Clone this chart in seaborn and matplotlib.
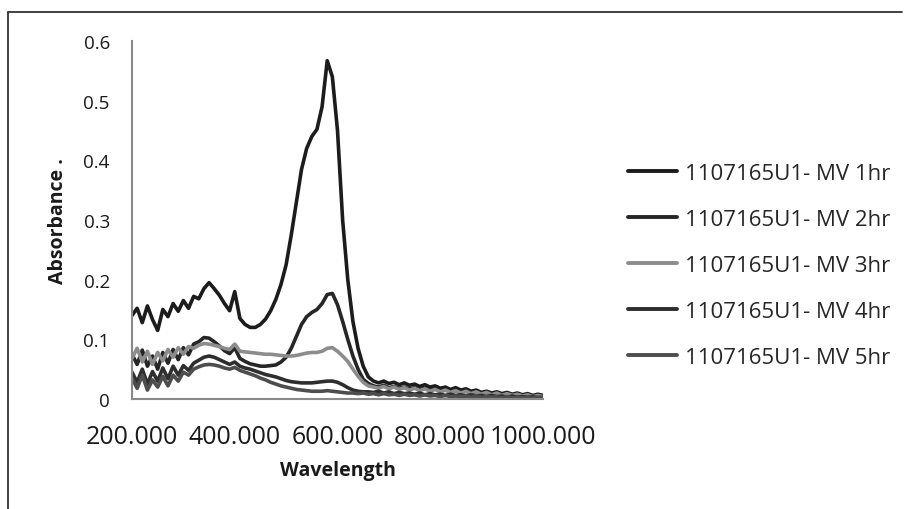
import numpy as np
import pandas as pd
import matplotlib
matplotlib.use("Agg")
import matplotlib.pyplot as plt
from matplotlib.lines import Line2D
import seaborn as sns

# Wavelength grid (nm), sampled every 10 nm
wavelength = np.arange(200, 1001, 10)

series_names = [
    "1107165U1- MV 1hr",
    "1107165U1- MV 2hr",
    "1107165U1- MV 3hr",
    "1107165U1- MV 4hr",
    "1107165U1- MV 5hr",
]

abs_1hr = [
    0.140, 0.152, 0.128, 0.156, 0.133, 0.115, 0.150, 0.138, 0.160, 0.147,
    0.165, 0.152, 0.172, 0.168, 0.185, 0.195, 0.185, 0.174, 0.160, 0.148,
    0.180, 0.135, 0.125, 0.120, 0.120, 0.125, 0.134, 0.148, 0.167, 0.192,
    0.225, 0.275, 0.330, 0.385, 0.420, 0.440, 0.452, 0.490, 0.567, 0.540,
    0.450, 0.300, 0.200, 0.130, 0.085, 0.055, 0.037, 0.030, 0.027, 0.030,
    0.026, 0.028, 0.024, 0.027, 0.023, 0.025, 0.021, 0.024, 0.020, 0.022,
    0.018, 0.020, 0.016, 0.019, 0.015, 0.017, 0.013, 0.015, 0.011, 0.013,
    0.010, 0.012, 0.009, 0.011, 0.008, 0.010, 0.007, 0.009, 0.006, 0.008,
    0.006,
]

abs_2hr = [
    0.075, 0.058, 0.082, 0.055, 0.072, 0.050, 0.078, 0.060, 0.083, 0.066,
    0.086, 0.074, 0.092, 0.096, 0.103, 0.102, 0.096, 0.089, 0.081, 0.076,
    0.086, 0.068, 0.063, 0.059, 0.057, 0.055, 0.055, 0.056, 0.057, 0.062,
    0.070, 0.085, 0.105, 0.125, 0.138, 0.145, 0.150, 0.160, 0.175, 0.177,
    0.158, 0.130, 0.100, 0.072, 0.050, 0.033, 0.026, 0.022, 0.020, 0.023,
    0.019, 0.021, 0.018, 0.020, 0.017, 0.019, 0.016, 0.018, 0.015, 0.017,
    0.013, 0.015, 0.012, 0.014, 0.011, 0.013, 0.010, 0.012, 0.009, 0.011,
    0.008, 0.010, 0.007, 0.009, 0.006, 0.008, 0.005, 0.007, 0.005, 0.006,
    0.004,
]

abs_3hr = [
    0.068, 0.085, 0.062, 0.080, 0.058, 0.078, 0.064, 0.083, 0.070, 0.086,
    0.075, 0.088, 0.085, 0.090, 0.093, 0.092, 0.090, 0.088, 0.085, 0.083,
    0.092, 0.080, 0.079, 0.078, 0.077, 0.076, 0.075, 0.075, 0.074, 0.073,
    0.072, 0.072, 0.073, 0.075, 0.077, 0.078, 0.078, 0.080, 0.085, 0.086,
    0.080, 0.072, 0.063, 0.050, 0.038, 0.028, 0.022, 0.020, 0.018, 0.021,
    0.017, 0.020, 0.016, 0.019, 0.015, 0.018, 0.014, 0.017, 0.013, 0.016,
    0.012, 0.015, 0.011, 0.014, 0.010, 0.013, 0.009, 0.012, 0.008, 0.011,
    0.007, 0.010, 0.006, 0.009, 0.006, 0.008, 0.005, 0.007, 0.004, 0.006,
    0.004,
]

abs_4hr = [
    0.045, 0.028, 0.050, 0.025, 0.046, 0.030, 0.052, 0.034, 0.055, 0.040,
    0.056, 0.048, 0.060, 0.065, 0.070, 0.072, 0.070, 0.066, 0.062, 0.058,
    0.062, 0.055, 0.052, 0.050, 0.047, 0.044, 0.041, 0.039, 0.037, 0.034,
    0.031, 0.029, 0.028, 0.027, 0.027, 0.027, 0.028, 0.029, 0.030, 0.030,
    0.028, 0.024, 0.019, 0.015, 0.013, 0.012, 0.012, 0.011, 0.013, 0.010,
    0.012, 0.009, 0.011, 0.009, 0.010, 0.008, 0.010, 0.007, 0.009, 0.007,
    0.008, 0.006, 0.008, 0.006, 0.007, 0.005, 0.007, 0.005, 0.006, 0.004,
    0.006, 0.004, 0.005, 0.003, 0.005, 0.003, 0.004, 0.003, 0.004, 0.002,
    0.003,
]

abs_5hr = [
    0.035, 0.018, 0.040, 0.015, 0.032, 0.020, 0.038, 0.022, 0.040, 0.030,
    0.045, 0.040, 0.050, 0.054, 0.057, 0.058, 0.057, 0.055, 0.052, 0.050,
    0.053, 0.048, 0.045, 0.042, 0.039, 0.035, 0.032, 0.028, 0.025, 0.022,
    0.020, 0.018, 0.016, 0.015, 0.014, 0.013, 0.013, 0.013, 0.014, 0.013,
    0.012, 0.011, 0.010, 0.010, 0.009, 0.010, 0.008, 0.009, 0.007, 0.009,
    0.007, 0.008, 0.006, 0.008, 0.006, 0.007, 0.005, 0.007, 0.005, 0.006,
    0.004, 0.006, 0.004, 0.005, 0.004, 0.005, 0.003, 0.005, 0.003, 0.004,
    0.003, 0.004, 0.002, 0.004, 0.002, 0.003, 0.002, 0.003, 0.002, 0.003,
    0.002,
]

x_ticks = [200, 400, 600, 800, 1000]
y_ticks = [0, 0.1, 0.2, 0.3, 0.4, 0.5, 0.6]

colors = ["#1c1c1c", "#262626", "#8c8c8c", "#2e2e2e", "#4d4d4d"]

all_values = [abs_1hr, abs_2hr, abs_3hr, abs_4hr, abs_5hr]
frames = []
for name, vals in zip(series_names, all_values):
    frames.append(pd.DataFrame({"Wavelength": wavelength, "Absorbance": vals, "series": name}))
df = pd.concat(frames, ignore_index=True)

sns.set_style("white")
plt.rcParams["font.family"] = ["Open Sans", "DejaVu Sans"]

fig = plt.figure(figsize=(9.07, 5.10), dpi=100)
ax = fig.add_axes([132 / 907, 110 / 510, (543 - 132) / 907, (400 - 42) / 510])

palette = dict(zip(series_names, colors))
sns.lineplot(data=df, x="Wavelength", y="Absorbance", hue="series",
             palette=palette, linewidth=2.6, ax=ax, legend=False, sort=False)

ax.set_xlim(200, 1000)
ax.set_ylim(0, 0.6)
ax.set_xticks(x_ticks)
ax.set_xticklabels([f"{v:.3f}" for v in x_ticks], fontsize=18, color="#1a1a1a")
ax.set_yticks(y_ticks)
ax.set_yticklabels(["0", "0.1", "0.2", "0.3", "0.4", "0.5", "0.6"], fontsize=13.5, color="#1a1a1a")
ax.tick_params(axis="x", length=0, pad=18)
ax.tick_params(axis="y", length=0, pad=16)

for side in ["top", "right"]:
    ax.spines[side].set_visible(False)
for side in ["left", "bottom"]:
    ax.spines[side].set_color("#8a8a8a")
    ax.spines[side].set_linewidth(1.5)

ax.set_xlabel("Wavelength", fontsize=14, fontweight="bold", color="#1a1a1a", labelpad=8)
ax.set_ylabel("Absorbance .", fontsize=14, fontweight="bold", color="#1a1a1a", labelpad=11)

# Legend on the right side of the figure
handles = [Line2D([0], [0], color=c, linewidth=2.8) for c in colors]
fig.legend(handles, series_names, loc="upper left",
           bbox_to_anchor=(628 / 907, 1 - 164 / 510), frameon=False,
           fontsize=16, handlelength=2.2, handletextpad=0.35,
           labelspacing=1.12, borderpad=0, borderaxespad=0)

# Chart border (left and top edges)
fig.add_artist(Line2D([8 / 907, 8 / 907], [0, 1 - 13 / 510], transform=fig.transFigure,
                      color="#333333", linewidth=1.3))
fig.add_artist(Line2D([8 / 907, 902 / 907], [1 - 13 / 510, 1 - 13 / 510], transform=fig.transFigure,
                      color="#333333", linewidth=1.3))

fig.savefig("out.png", dpi=100, facecolor="white")
